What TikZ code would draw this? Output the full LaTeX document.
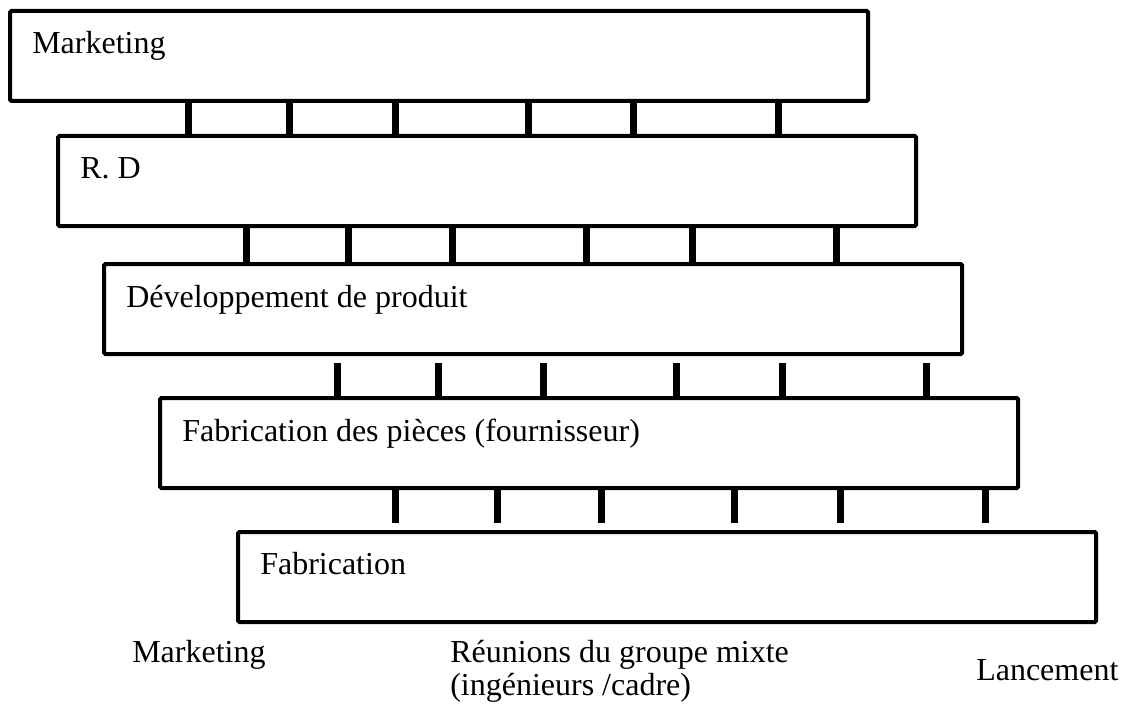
\documentclass[tikz,border=0pt]{standalone}
\usepackage{fontspec}
\setmainfont{Liberation Serif}
\usepackage{tikz}

\begin{document}
\begin{tikzpicture}[x=0.75pt, y=-0.75pt,
    etape/.style={draw, line width=3pt, rounded corners=1pt, minimum width=643.5pt,
        minimum height=67.5pt, inner sep=0pt, outer sep=0pt, anchor=north west},
    titre/.style={anchor=base west, inner sep=0pt, align=left,
        font=\fontsize{24}{24.75}\selectfont},
    lien/.style={line width=5.25pt}]
    \useasboundingbox (0,0) rectangle (1122,710);
    \node [etape] (mk) at (10,11) {};
    \node [etape] (rd) at (58,136) {};
    \node [etape] (dp) at (104,264) {};
    \node [etape] (fp) at (160,398) {};
    \node [etape] (fb) at (238,532) {};
    \node [titre] (tmk) at ([shift={(22,43)}]mk.north west) {Marketing};
    \node [titre] (trd) at ([shift={(22,43)}]rd.north west) {R. D};
    \node [titre] (tdp) at ([shift={(22,43)}]dp.north west) {Développement de produit};
    \node [titre] (tfp) at ([shift={(22,43)}]fp.north west) {Fabrication des pièces (fournisseur)};
    \node [titre] (tfb) at ([shift={(22,42)}]fb.north west) {Fabrication};
    \foreach \x in {188,289,395,528,633,778}
        \draw [lien] (\x,0 |- mk.south) -- (\x,0 |- rd.north);
    \foreach \x in {246,348,452,586,692,836}
        \draw [lien] (\x,0 |- rd.south) -- (\x,0 |- dp.north);
    \foreach \x in {337,438,543,676,782,926}
        \draw [lien] (\x,0 |- dp.south) ++(0,9) -- (\x,0 |- fp.north);
    \foreach \x in {395,497,601,734,840,985}
        \draw [lien] (\x,0 |- fb.north) ++(0,-9) -- (\x,0 |- fp.south);
    \node [titre] (pmk) at (132,662) {Marketing};
    \node [titre] (reu) at (450,695) {Réunions du groupe mixte\\(ingénieurs /cadre)};
    \node [titre] (lan) at (976,680) {Lancement};
\end{tikzpicture}
\end{document}
